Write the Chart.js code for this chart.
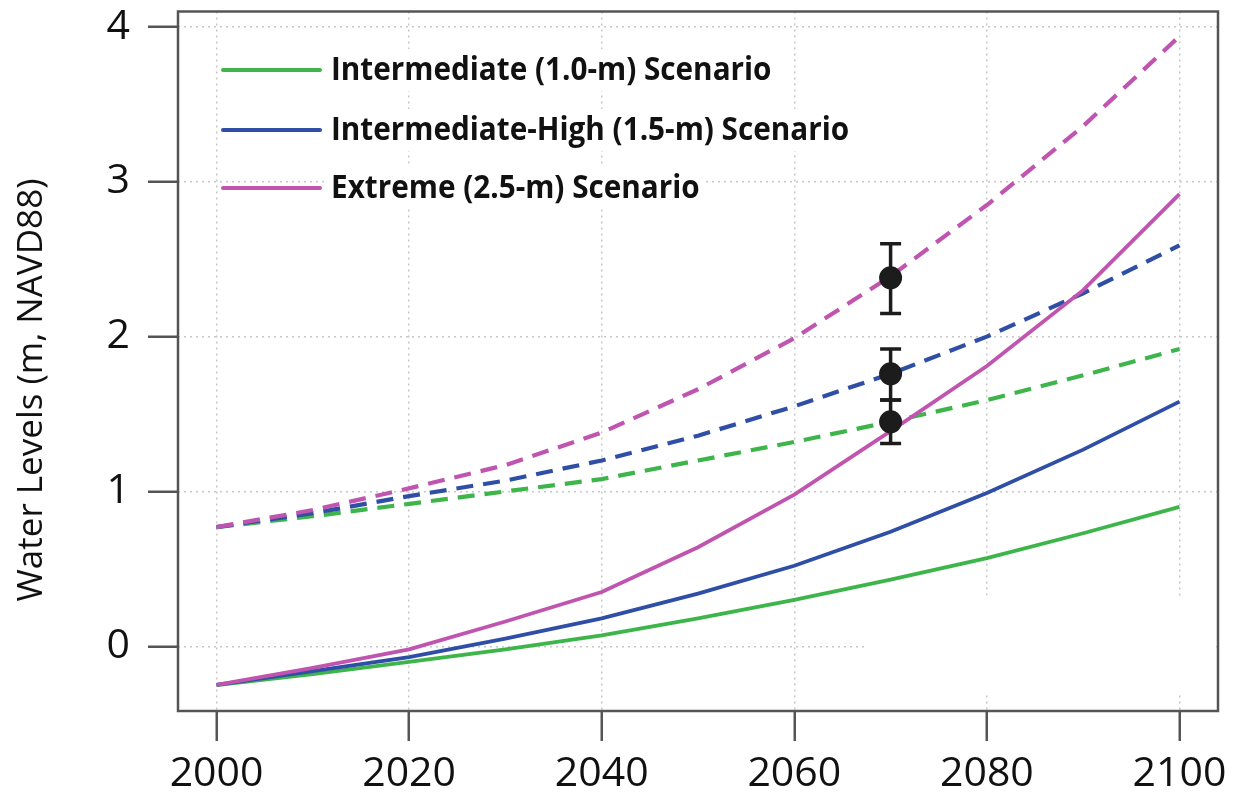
<!DOCTYPE html>
<html>
<head>
<meta charset="utf-8">
<script src="https://cdn.jsdelivr.net/npm/chart.js@4.4.1/dist/chart.umd.min.js"></script>
<style>
  html, body { margin: 0; padding: 0; background: #fff; }
  #wrap { width: 1240px; height: 795px; }
</style>
</head>
<body>
<div id="wrap"><canvas id="chart" width="1240" height="795"></canvas></div>
<script>
// data
const years = [2000, 2010, 2020, 2030, 2040, 2050, 2060, 2070, 2080, 2090, 2100];

const intermediate = [-0.25, -0.18, -0.10, -0.02, 0.07, 0.18, 0.30, 0.43, 0.57, 0.73, 0.90];
const intermediateHigh = [-0.25, -0.16, -0.07, 0.05, 0.18, 0.34, 0.52, 0.74, 0.99, 1.27, 1.58];
const extreme = [-0.25, -0.14, -0.02, 0.16, 0.35, 0.64, 0.98, 1.39, 1.81, 2.30, 2.92];

const intermediateUpper = [0.77, 0.84, 0.92, 1.00, 1.08, 1.20, 1.32, 1.45, 1.59, 1.75, 1.92];
const intermediateHighUpper = [0.77, 0.86, 0.97, 1.07, 1.20, 1.36, 1.55, 1.76, 2.00, 2.28, 2.59];
const extremeUpper = [0.77, 0.88, 1.02, 1.17, 1.38, 1.66, 1.99, 2.39, 2.85, 3.36, 3.94];

const obsYears = [2070, 2070, 2070];
const obsValues = [2.38, 1.76, 1.45];
const obsLow = [2.15, 1.59, 1.31];
const obsHigh = [2.60, 1.92, 1.59];

const legendLabels = [
  "Intermediate (1.0-m) Scenario",
  "Intermediate-High (1.5-m) Scenario",
  "Extreme (2.5-m) Scenario"
];

const xTicks = [2000, 2020, 2040, 2060, 2080, 2100];
const yTicks = [0, 1, 2, 3, 4];

const GREEN = "#3db54a";
const BLUE = "#2f4ea6";
const MAGENTA = "#c055b0";
const colors = [GREEN, BLUE, MAGENTA];

const pts = (ys) => years.map((x, i) => ({ x, y: ys[i] }));

function lineSet (label, ys, color, dashed, order) {
  return {
    type: "line",
    label,
    data: pts(ys),
    borderColor: color,
    backgroundColor: color,
    borderWidth: dashed ? 4.2 : 3.8,
    borderDash: dashed ? [17, 10] : [],
    pointRadius: 0,
    tension: 0,
    fill: false,
    order
  };
}

// the original has a blank patch over the grid in the lower right corner
const gridMask = {
  id: "gridMask",
  beforeDatasetsDraw (chart) {
    const { ctx, chartArea: a } = chart;
    ctx.save();
    ctx.fillStyle = "#fff";
    ctx.fillRect(864, 599, a.right - 864 - 2, 94);
    ctx.restore();
  }
};

const errorBars = {
  id: "errorBars",
  beforeDatasetDraw (chart, args) {
    if (args.index !== 0) return;
    const { ctx, scales: { x, y } } = chart;
    ctx.save();
    ctx.strokeStyle = "#1c1c1c";
    ctx.lineWidth = 3.5;
    obsYears.forEach((yr, i) => {
      const px = x.getPixelForValue(yr);
      const lo = y.getPixelForValue(obsLow[i]);
      const hi = y.getPixelForValue(obsHigh[i]);
      ctx.beginPath();
      ctx.moveTo(px, lo); ctx.lineTo(px, hi);
      ctx.moveTo(px - 10.5, lo); ctx.lineTo(px + 10.5, lo);
      ctx.moveTo(px - 10.5, hi); ctx.lineTo(px + 10.5, hi);
      ctx.stroke();
    });
    ctx.restore();
  }
};

const frameAndLegend = {
  id: "frameAndLegend",
  afterDraw (chart) {
    const { ctx, chartArea: a } = chart;
    ctx.save();
    // plot box
    ctx.strokeStyle = "#555";
    ctx.lineWidth = 2.5;
    ctx.strokeRect(a.left, a.top, a.right - a.left, a.bottom - a.top);

    // legend
    const rows = [70, 130, 188];
    const sx = 0.9;
    ctx.font = "bold 33px 'Open Sans'";
    ctx.textBaseline = "middle";
    legendLabels.forEach((t, i) => {
      const w = ctx.measureText(t).width;
      ctx.fillStyle = "#fff";
      ctx.fillRect(326, rows[i] - 21, w * sx + 8, 42);
      ctx.strokeStyle = colors[i];
      ctx.lineWidth = 4;
      ctx.lineCap = "round";
      ctx.beginPath();
      ctx.moveTo(223, rows[i]); ctx.lineTo(320, rows[i]);
      ctx.stroke();
      ctx.fillStyle = "#111";
      ctx.save();
      ctx.translate(331, rows[i]);
      ctx.scale(sx, 1);
      ctx.fillText(t, 0, 1);
      ctx.restore();
    });

    // y axis title
    ctx.fillStyle = "#111";
    ctx.font = "35px 'Open Sans'";
    ctx.textAlign = "center";
    ctx.textBaseline = "middle";
    ctx.translate(32, 390);
    ctx.rotate(-Math.PI / 2);
    ctx.fillText("Water Levels (m, NAVD88)", 0, 0);
    ctx.restore();
  }
};

new Chart(document.getElementById("chart"), {
  data: {
    datasets: [
      {
        type: "scatter",
        label: "Observed",
        data: obsYears.map((x, i) => ({ x, y: obsValues[i] })),
        pointRadius: 11.5,
        pointHoverRadius: 11.5,
        pointBackgroundColor: "#1c1c1c",
        pointBorderWidth: 0,
        order: 0
      },
      lineSet(legendLabels[2], extremeUpper, MAGENTA, true, 1),
      lineSet(legendLabels[2], extreme, MAGENTA, false, 2),
      lineSet(legendLabels[1], intermediateHighUpper, BLUE, true, 3),
      lineSet(legendLabels[1], intermediateHigh, BLUE, false, 4),
      lineSet(legendLabels[0], intermediateUpper, GREEN, true, 5),
      lineSet(legendLabels[0], intermediate, GREEN, false, 6)
    ]
  },
  options: {
    responsive: false,
    animation: false,
    events: [],
    layout: { padding: { left: 0, right: 22, top: 8, bottom: 0 } },
    plugins: {
      legend: { display: false },
      tooltip: { enabled: false }
    },
    scales: {
      x: {
        type: "linear",
        min: 1996,
        max: 2104,
        afterBuildTicks: (s) => { s.ticks = xTicks.map((v) => ({ value: v })); },
        afterFit: (s) => { s.height = 84; s.paddingLeft = 0; s.paddingRight = 0; },
        ticks: {
          color: "#111",
          font: { family: "'Open Sans'", size: 41 },
          padding: 9,
          maxRotation: 0,
          callback: (v) => String(v)
        },
        grid: {
          color: "#c8c8c8",
          lineWidth: 1.5,
          tickLength: 30,
          tickColor: "#555",
          tickWidth: 2.5,
          tickBorderDash: []
        },
        border: { display: false, dash: [2, 4] }
      },
      y: {
        type: "linear",
        min: -0.418,
        max: 4.10,
        afterBuildTicks: (s) => { s.ticks = yTicks.map((v) => ({ value: v })); },
        afterFit: (s) => { s.width = 178; s.paddingTop = 0; s.paddingBottom = 0; },
        ticks: {
          color: "#111",
          font: { family: "'Open Sans'", size: 41 },
          padding: 18,
          callback: (v) => String(v)
        },
        grid: {
          color: "#c8c8c8",
          lineWidth: 1.5,
          tickLength: 30,
          tickColor: "#555",
          tickWidth: 2.5,
          tickBorderDash: []
        },
        border: { display: false, dash: [2, 4] }
      }
    }
  },
  plugins: [gridMask, errorBars, frameAndLegend]
});
</script>
</body>
</html>
